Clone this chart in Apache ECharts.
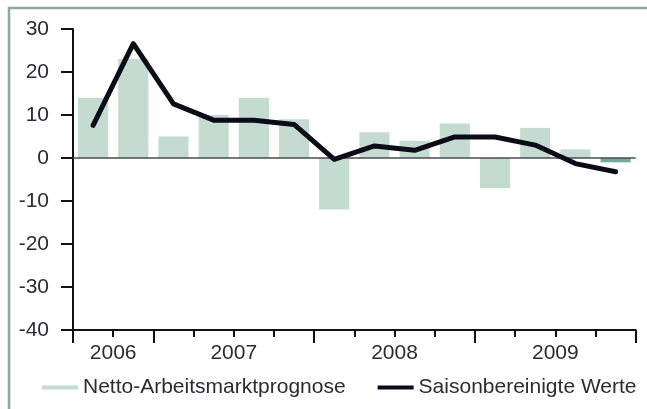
<!DOCTYPE html>
<html>
<head>
<meta charset="utf-8">
<script src="https://cdn.jsdelivr.net/npm/echarts@6/dist/echarts.min.js"></script>
<style>
  html, body { margin: 0; padding: 0; background: #fff; }
  #chart { width: 647px; height: 409px; }
</style>
</head>
<body>
<div id="chart"></div>
<script>
// Quartale von 2006 Q3 bis 2009 Q4
var quarters = ['2006 Q3', '2006 Q4',
    '2007 Q1', '2007 Q2', '2007 Q3', '2007 Q4',
    '2008 Q1', '2008 Q2', '2008 Q3', '2008 Q4',
    '2009 Q1', '2009 Q2', '2009 Q3', '2009 Q4'];

// Balken: Netto-Arbeitsmarktprognose
var nettoValues = [14, 23, 5, 10, 14, 9, -12, 6, 4, 8, -7, 7, 2, -1];
// Linie: Saisonbereinigte Werte
var saisonValues = [7.6, 26.6, 12.6, 8.8, 8.8, 7.8, -0.3, 2.8, 1.8, 4.9, 4.9, 3, -1.3, -3.2];

// Jahresbeschriftung auf den Grenzen der Quartale (15 Grenzen)
var yearTickLabels = ['', '2006', '', '', '2007', '', '', '', '2008', '', '', '', '2009', '', ''];
var yearBoundaries = [0, 2, 6, 10, 14];

// letzter Balken dunkler hervorgehoben
var highlightIndex = 13;

var textColor = '#2b2b33';
var barColor = '#c4dbd2';
var barColorDark = '#74ab97';
var lineColor = '#0c0c18';
var fontFamily = '"Liberation Sans", Arial, sans-serif';

var chart = echarts.init(document.getElementById('chart'));

var option = {
    animation: false,
    textStyle: { fontFamily: fontFamily },
    graphic: [
        { type: 'line', shape: { x1: 8, y1: 8, x2: 647, y2: 8 }, style: { stroke: '#90a99c', lineWidth: 2.5 } },
        { type: 'line', shape: { x1: 9, y1: 7, x2: 9, y2: 409 }, style: { stroke: '#90a99c', lineWidth: 2.5 } }
    ],
    grid: { left: 73, right: 11.3, top: 29, bottom: 79 },
    legend: {
        left: 37,
        top: 372,
        itemWidth: 36,
        itemHeight: 4,
        itemGap: 32,
        textStyle: { color: textColor, fontSize: 21, fontFamily: fontFamily },
        data: [
            { name: 'Netto-Arbeitsmarktprognose', icon: 'rect', itemStyle: { color: barColor } },
            { name: 'Saisonbereinigte Werte', icon: 'rect', itemStyle: { color: lineColor } }
        ]
    },
    xAxis: [
        {
            type: 'category',
            data: quarters,
            boundaryGap: true,
            axisLine: { onZero: false, lineStyle: { color: '#111', width: 2 } },
            axisTick: { show: true, interval: 0, length: 7, lineStyle: { color: '#111', width: 2 } },
            axisLabel: { show: false }
        },
        {
            type: 'category',
            data: yearTickLabels,
            boundaryGap: false,
            position: 'bottom',
            axisLine: { show: false, onZero: false },
            axisTick: {
                length: 13,
                interval: function (idx) { return yearBoundaries.indexOf(idx) >= 0; },
                lineStyle: { color: '#111', width: 2 }
            },
            axisLabel: { interval: 0, margin: 13, color: textColor, fontSize: 21, fontFamily: fontFamily }
        }
    ],
    yAxis: {
        type: 'value',
        min: -40,
        max: 30,
        interval: 10,
        axisLine: { show: true, lineStyle: { color: '#111', width: 2 } },
        axisTick: { show: true, length: 12, lineStyle: { color: '#111', width: 2 } },
        axisLabel: { margin: 24, color: textColor, fontSize: 21, fontFamily: fontFamily },
        splitLine: { show: false }
    },
    series: [
        {
            name: 'Netto-Arbeitsmarktprognose',
            type: 'bar',
            xAxisIndex: 0,
            barWidth: '75%',
            itemStyle: { color: barColor },
            data: nettoValues.map(function (v, i) {
                return i === highlightIndex ? { value: v, itemStyle: { color: barColorDark } } : v;
            }),
            markLine: {
                silent: true,
                symbol: 'none',
                label: { show: false },
                lineStyle: { color: '#4a4a55', width: 1.5, type: 'solid' },
                data: [{ yAxis: 0 }]
            },
            z: 2
        },
        {
            name: 'Saisonbereinigte Werte',
            type: 'line',
            xAxisIndex: 0,
            data: saisonValues,
            symbol: 'none',
            lineStyle: { color: lineColor, width: 5, cap: 'round', join: 'round' },
            itemStyle: { color: lineColor },
            z: 5
        }
    ]
};

chart.setOption(option);
</script>
</body>
</html>
